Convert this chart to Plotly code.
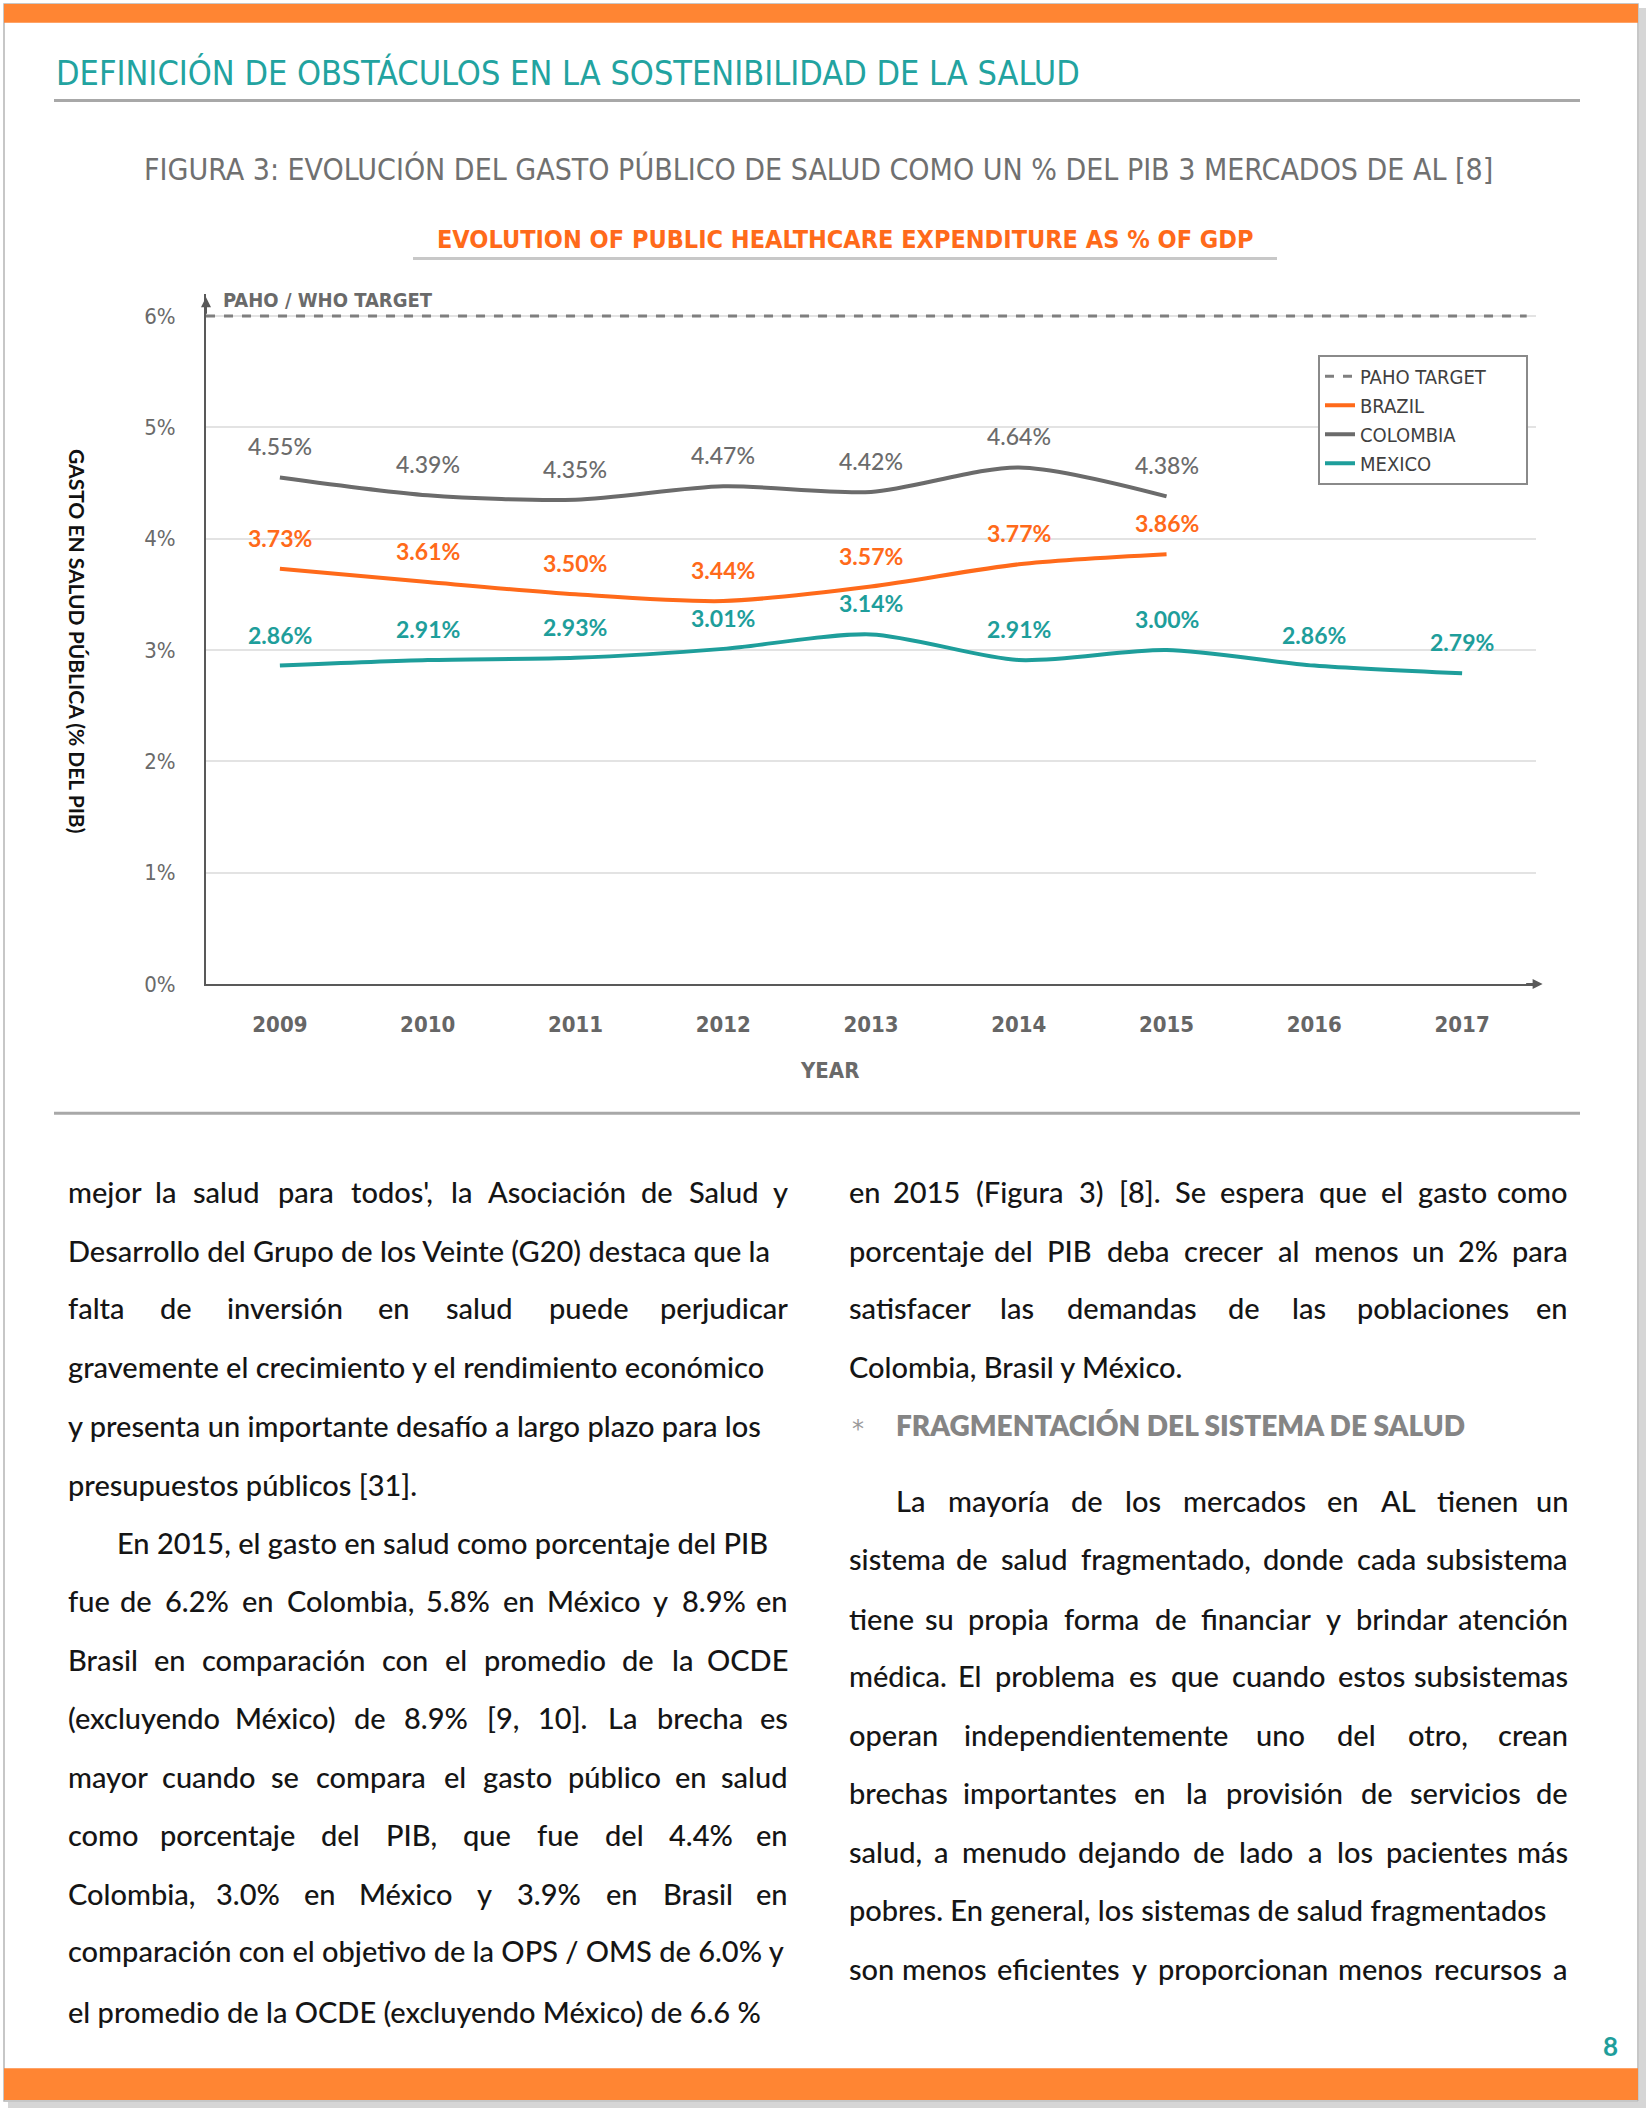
import plotly.graph_objects as go

# ---------------- data ----------------
years = [2009, 2010, 2011, 2012, 2013, 2014, 2015, 2016, 2017]
brazil_years = [2009, 2010, 2011, 2012, 2013, 2014, 2015]
brazil = [3.73, 3.61, 3.50, 3.44, 3.57, 3.77, 3.86]
colombia_years = [2009, 2010, 2011, 2012, 2013, 2014, 2015]
colombia = [4.55, 4.39, 4.35, 4.47, 4.42, 4.64, 4.38]
mexico_years = [2009, 2010, 2011, 2012, 2013, 2014, 2015, 2016, 2017]
mexico = [2.86, 2.91, 2.93, 3.01, 3.14, 2.91, 3.00, 2.86, 2.79]
paho_target = 6.0
y_ticks = [0, 1, 2, 3, 4, 5, 6]
y_tick_labels = ["0%", "1%", "2%", "3%", "4%", "5%", "6%"]
x_tick_labels = ["2009", "2010", "2011", "2012", "2013", "2014", "2015", "2016", "2017"]
series_names = ["PAHO TARGET", "BRAZIL", "COLOMBIA", "MEXICO"]

section_title = "DEFINICIÓN DE OBSTÁCULOS EN LA SOSTENIBILIDAD DE LA SALUD"
figure_caption = "FIGURA 3: EVOLUCIÓN DEL GASTO PÚBLICO DE SALUD COMO UN % DEL PIB 3 MERCADOS DE AL [8]"
chart_title = "EVOLUTION OF PUBLIC HEALTHCARE EXPENDITURE AS % OF GDP"
y_title = "GASTO EN SALUD PÚBLICA (% DEL PIB)"
x_title = "YEAR"
target_label = "PAHO / WHO TARGET"

# (text, justified, indented)
left_lines = [
    ("mejor la salud para todos', la Asociación de Salud y", True, False),
    ("Desarrollo del Grupo de los Veinte (G20) destaca que la", True, False),
    ("falta de inversión en salud puede perjudicar", True, False),
    ("gravemente el crecimiento y el rendimiento económico", False, False),
    ("y presenta un importante desafío a largo plazo para los", True, False),
    ("presupuestos públicos [31].", False, False),
    ("En 2015, el gasto en salud como porcentaje del PIB", True, True),
    ("fue de 6.2% en Colombia, 5.8% en México y 8.9% en", True, False),
    ("Brasil en comparación con el promedio de la OCDE", True, False),
    ("(excluyendo México) de 8.9% [9, 10]. La brecha es", True, False),
    ("mayor cuando se compara el gasto público en salud", True, False),
    ("como porcentaje del PIB, que fue del 4.4% en", True, False),
    ("Colombia, 3.0% en México y 3.9% en Brasil en", True, False),
    ("comparación con el objetivo de la OPS / OMS de 6.0% y", True, False),
    ("el promedio de la OCDE (excluyendo México) de 6.6 %", True, False),
]
right_lines_top = [
    ("en 2015 (Figura 3) [8]. Se espera que el gasto como", True, False),
    ("porcentaje del PIB deba crecer al menos un 2% para", True, False),
    ("satisfacer las demandas de las poblaciones en", True, False),
    ("Colombia, Brasil y México.", False, False),
]
right_heading = "FRAGMENTACIÓN DEL SISTEMA DE SALUD"
right_lines_bottom = [
    ("La mayoría de los mercados en AL tienen un", True, True),
    ("sistema de salud fragmentado, donde cada subsistema", True, False),
    ("tiene su propia forma de financiar y brindar atención", True, False),
    ("médica. El problema es que cuando estos subsistemas", True, False),
    ("operan independientemente uno del otro, crean", True, False),
    ("brechas importantes en la provisión de servicios de", True, False),
    ("salud, a menudo dejando de lado a los pacientes más", True, False),
    ("pobres. En general, los sistemas de salud fragmentados", True, False),
    ("son menos eficientes y proporcionan menos recursos a", True, False),
]
page_number = "8"

# ---------------- style ----------------
W, H = 1648, 2122
ORANGE_BAR = "#FF8533"
TEAL = "#1E9E9B"
ORANGE = "#FF6A1A"
GREY_LINE = "#6B6B6B"
AXIS = "#595959"
NARROW = "Liberation Sans Narrow, DejaVu Sans Condensed, Arial Narrow, sans-serif"
BODY = "Lato, Open Sans, sans-serif"
BODY_SIZE = 29


def px(x):
    return x / W


def py(y):
    return 1 - y / H


# approximate Lato advance widths (em)
_w = {}
for c in "abdeghnopqu":
    _w[c] = 0.54
for c, v in {"c": 0.46, "f": 0.32, "i": 0.23, "j": 0.23, "k": 0.49, "l": 0.23, "m": 0.8,
             "r": 0.36, "s": 0.42, "t": 0.34, "v": 0.5, "w": 0.76, "x": 0.49, "y": 0.5, "z": 0.45,
             "e": 0.52, "n": 0.53,
             "á": 0.5, "é": 0.52, "í": 0.23, "ó": 0.54, "ú": 0.54, "ñ": 0.53,
             ",": 0.22, ".": 0.22, "(": 0.3, ")": 0.3, "[": 0.3, "]": 0.3, "%": 0.76,
             "/": 0.38, "'": 0.2, " ": 0.19, "I": 0.28, "M": 0.86, "O": 0.74, "P": 0.6,
             "B": 0.64, "D": 0.73, "E": 0.56, "G": 0.7, "C": 0.65, "L": 0.5, "S": 0.52,
             "V": 0.67, "A": 0.68, "F": 0.54}.items():
    _w[c] = v


def est(s, size):
    t = 0
    for ch in s:
        if ch.isdigit():
            t += 0.58
        else:
            t += _w.get(ch, 0.6 if ch.isupper() else 0.52)
    return t * size


annotations = []


def body_line(text, y, x_left, x_right, justify, indent=0, size=BODY_SIZE, color="#151515"):
    xl = x_left + indent
    words = text.split()
    fnt = dict(family=BODY, size=size, color=color, weight=500)

    def put(t, x, anchor):
        annotations.append(dict(x=px(x), y=py(y), xref="paper", yref="paper", text=t,
                                showarrow=False, xanchor=anchor, yanchor="middle", font=fnt))

    if not justify or len(words) < 2:
        put(text, xl, "left")
        return
    widths = [est(w_, size) for w_ in words]
    gap = (x_right - xl - sum(widths)) / (len(words) - 1)
    if gap < 0.45 * size:
        put(text, xl, "left")
        return
    x = xl
    for i, (w_, wd) in enumerate(zip(words, widths)):
        if i == 0:
            put(w_, x, "left")
        elif i == len(words) - 1:
            put(w_, x_right, "right")
        else:
            put(w_, x + wd / 2, "center")
        x += wd + gap


# left column
left_y = [1199, 1258, 1316, 1375, 1434, 1494, 1552, 1610, 1670, 1728, 1787, 1846, 1905, 1963, 2024]
for (t, j, ind), yy in zip(left_lines, left_y):
    body_line(t, yy, 66, 790, j, indent=49 if ind else 0)

right_y_top = [1199, 1258, 1316, 1375]
for (t, j, ind), yy in zip(right_lines_top, right_y_top):
    body_line(t, yy, 847, 1570, j)

right_y_bottom = [1510, 1568, 1628, 1686, 1745, 1804, 1863, 1921, 1981]
for (t, j, ind), yy in zip(right_lines_bottom, right_y_bottom):
    body_line(t, yy, 847, 1570, j, indent=47 if ind else 0)

# heading in right column
annotations.append(dict(x=px(850), y=py(1438), xref="paper", yref="paper", text="*",
                        showarrow=False, xanchor="left", yanchor="middle",
                        font=dict(family="DejaVu Sans", size=24, color="#9a9a9a")))
annotations.append(dict(x=px(894), y=py(1434), xref="paper", yref="paper",
                        text=right_heading,
                        showarrow=False, xanchor="left", yanchor="middle",
                        font=dict(family=BODY, size=28, color="#858585", weight=800)))

# page number
annotations.append(dict(x=px(1610), y=py(2059), xref="paper", yref="paper",
                        text="<b>" + page_number + "</b>", showarrow=False,
                        xanchor="center", yanchor="middle",
                        font=dict(family=BODY, size=26, color=TEAL)))

# titles
annotations.append(dict(x=px(54), y=py(73), xref="paper", yref="paper", text=section_title,
                        showarrow=False, xanchor="left", yanchor="middle",
                        font=dict(family=NARROW, size=34, color="#22A3A0")))
annotations.append(dict(x=px(818), y=py(170), xref="paper", yref="paper", text=figure_caption,
                        showarrow=False, xanchor="center", yanchor="middle",
                        font=dict(family=NARROW, size=30, color="#707070")))
annotations.append(dict(x=px(845), y=py(241), xref="paper", yref="paper",
                        text="<b>" + chart_title + "</b>",
                        showarrow=False, xanchor="center", yanchor="middle",
                        font=dict(family=NARROW, size=25, color=ORANGE)))

# axis titles
annotations.append(dict(x=px(78), y=py(645), xref="paper", yref="paper",
                        text="<b>" + y_title + "</b>", textangle=90,
                        showarrow=False, xanchor="center", yanchor="middle",
                        font=dict(family=BODY, size=21, color="#111111")))
annotations.append(dict(x=px(829), y=py(1077), xref="paper", yref="paper",
                        text=x_title,
                        showarrow=False, xanchor="center", yanchor="middle",
                        font=dict(family=NARROW, size=22, color="#6a6a6a", weight=600)))
annotations.append(dict(x=px(221), y=py(302), xref="paper", yref="paper",
                        text="<b>" + target_label + "</b>",
                        showarrow=False, xanchor="left", yanchor="middle",
                        font=dict(family=NARROW, size=20, color="#6a6a6a")))

# axis arrows
annotations.append(dict(x=1.005, y=0, xref="x domain", yref="y", ax=-18, ay=0, text="",
                        showarrow=True, arrowhead=2, arrowsize=1, arrowwidth=2,
                        arrowcolor=AXIS))
annotations.append(dict(x=0, y=6.17, xref="x domain", yref="y", ax=0, ay=18, text="",
                        showarrow=True, arrowhead=2, arrowsize=1, arrowwidth=2,
                        arrowcolor=AXIS))

# data labels
for xs, vals, col, wt in [(colombia_years, colombia, "#6b6b6b", 500),
                          (brazil_years, brazil, ORANGE, 700),
                          (mexico_years, mexico, "#1E9E9B", 700)]:
    for xv, v in zip(xs, vals):
        annotations.append(dict(x=xv, y=v, xref="x", yref="y", text=f"{v:.2f}%",
                                showarrow=False, xanchor="center", yanchor="middle", yshift=31,
                                font=dict(family=BODY, size=23, color=col, weight=wt)))

# ---------------- figure ----------------
NB = "\u00a0"
fig = go.Figure()
fig.add_trace(go.Scatter(x=[None], y=[None], mode="lines", name=series_names[0] + NB * 6,
                         line=dict(color="#7f7f7f", width=3, dash="dash")))
fig.add_trace(go.Scatter(x=brazil_years, y=brazil, mode="lines", name=series_names[1],
                         line=dict(color=ORANGE, width=4, shape="spline", smoothing=0.8)))
fig.add_trace(go.Scatter(x=colombia_years, y=colombia, mode="lines", name=series_names[2],
                         line=dict(color=GREY_LINE, width=4, shape="spline", smoothing=0.8)))
fig.add_trace(go.Scatter(x=mexico_years, y=mexico, mode="lines", name=series_names[3],
                         line=dict(color=TEAL, width=4, shape="spline", smoothing=0.8)))

shapes = [
    # page border + shadow
    dict(type="rect", xref="paper", yref="paper", x0=px(1639), x1=px(1646), y0=py(2120), y1=py(8),
         fillcolor="#d6d6d6", line=dict(width=0), layer="below"),
    dict(type="rect", xref="paper", yref="paper", x0=px(8), x1=px(1646), y0=py(2121), y1=py(2115),
         fillcolor="#d6d6d6", line=dict(width=0), layer="below"),
    dict(type="rect", xref="paper", yref="paper", x0=px(4), x1=px(1638), y0=py(2114), y1=py(4),
         fillcolor="white", line=dict(color="#b5b5b5", width=1.5), layer="below"),
    # orange bars
    dict(type="rect", xref="paper", yref="paper", x0=px(4), x1=px(1638), y0=py(23), y1=py(4),
         fillcolor=ORANGE_BAR, line=dict(width=0)),
    dict(type="rect", xref="paper", yref="paper", x0=px(4), x1=px(1638), y0=py(2113), y1=py(2081),
         fillcolor=ORANGE_BAR, line=dict(width=0)),
    # separator lines
    dict(type="line", xref="paper", yref="paper", x0=px(54), x1=px(1580), y0=py(101), y1=py(101),
         line=dict(color="#a8a8a8", width=3)),
    dict(type="line", xref="paper", yref="paper", x0=px(413), x1=px(1277), y0=py(260), y1=py(260),
         line=dict(color="#c8c8c8", width=3)),
    dict(type="line", xref="paper", yref="paper", x0=px(54), x1=px(1580), y0=py(1120), y1=py(1120),
         line=dict(color="#a8a8a8", width=3)),
    # target line
    dict(type="line", xref="x domain", yref="y", x0=0, x1=0.993, y0=paho_target, y1=paho_target,
         line=dict(color="#7f7f7f", width=3, dash="dash")),
]

fig.update_layout(
    width=W, height=H, autosize=False,
    margin=dict(l=0, r=0, t=0, b=0),
    paper_bgcolor="white", plot_bgcolor="white",
    showlegend=True,
    legend=dict(x=px(1318), y=py(357), xanchor="left", yanchor="top",
                bgcolor="white", bordercolor="#8a8a8a", borderwidth=2,
                font=dict(family=NARROW, size=20, color="#404040"),
                tracegroupgap=0, itemwidth=30),
    xaxis=dict(domain=[px(206), px(1536)], range=[2008.5, 2017.5],
               tickmode="array", tickvals=years, ticktext=x_tick_labels,
               showgrid=False, zeroline=False, showline=True, linecolor=AXIS, linewidth=2,
               ticks="", ticklabelstandoff=20,
               tickfont=dict(family=NARROW, size=22, color="#666666", weight=600)),
    yaxis=dict(domain=[py(990), py(990 - 6.2 * 112)], range=[0, 6.2],
               tickmode="array", tickvals=y_ticks, ticktext=y_tick_labels,
               showgrid=True, gridcolor="#e3e3e3", gridwidth=2, zeroline=False,
               showline=True, linecolor=AXIS, linewidth=2, ticks="", ticklabelstandoff=24,
               tickfont=dict(family=NARROW, size=22, color="#6a6a6a")),
    shapes=shapes,
    annotations=annotations,
)

fig.write_html("out.html", config={"displayModeBar": False},
               post_script="document.body.style.margin='0';")
